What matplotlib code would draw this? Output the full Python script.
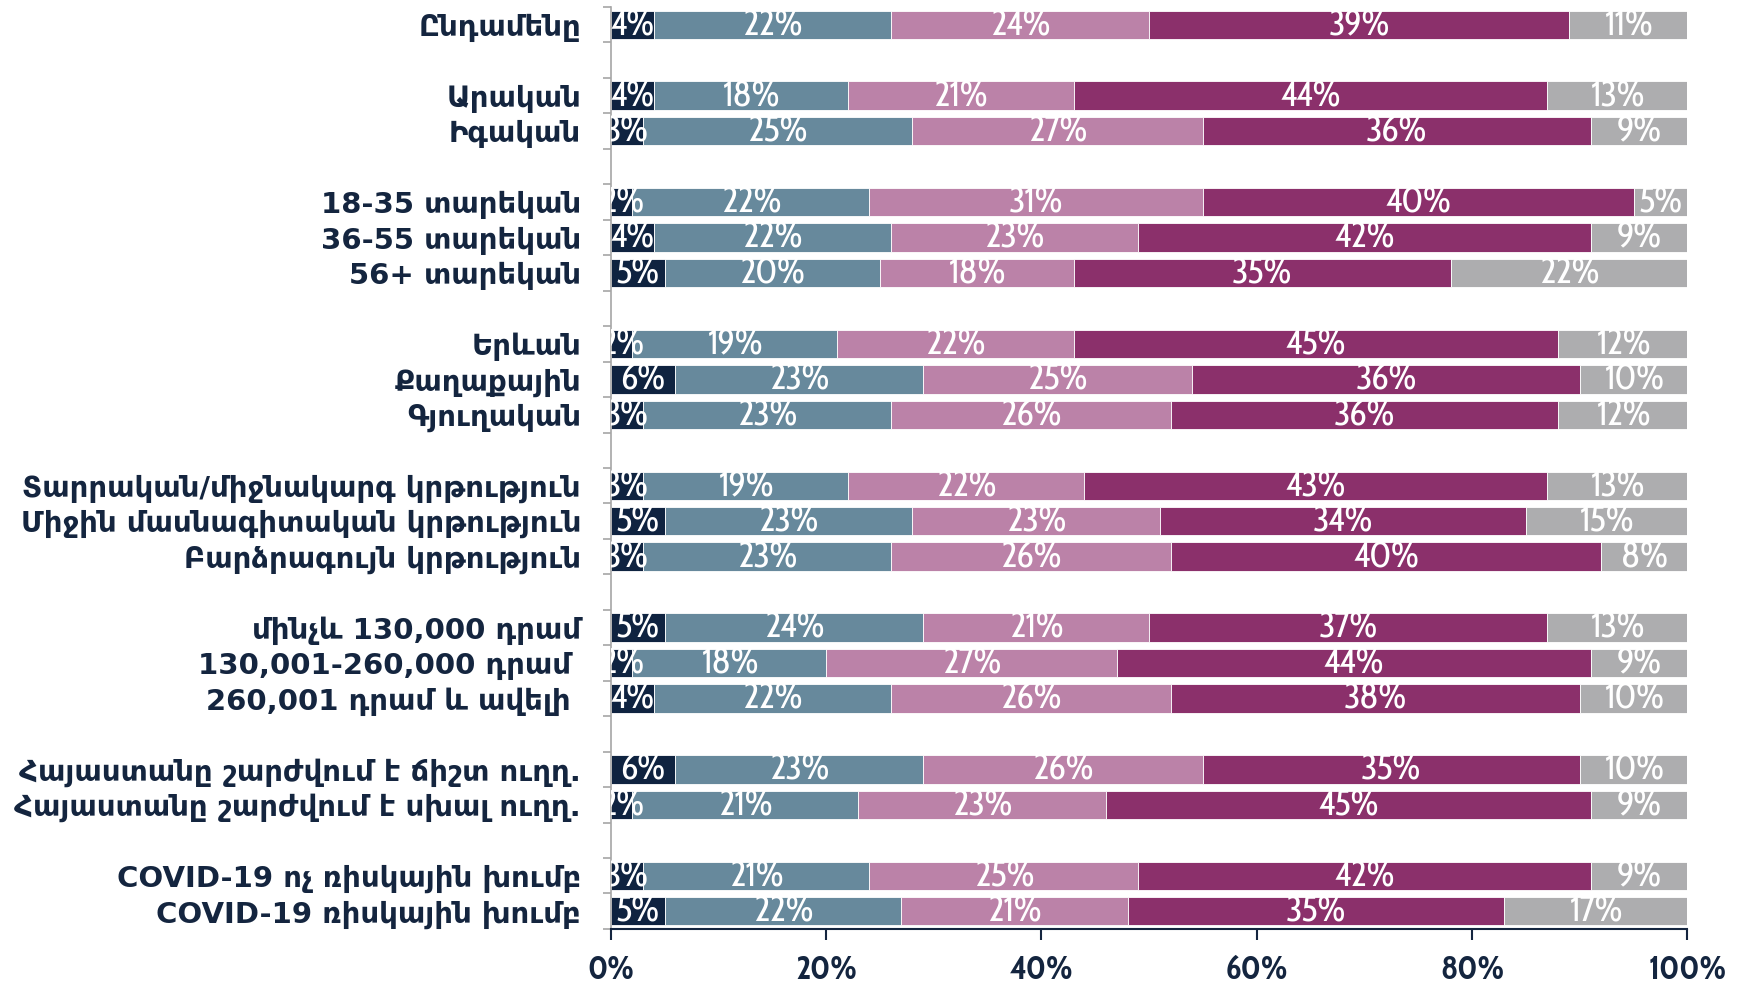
import matplotlib
matplotlib.use("Agg")
import matplotlib.pyplot as plt
import numpy as np

# categories, top to bottom; group sizes define the blank rows between them
labels = [
    "Ընդամենը",
    "Արական", "Իգական",
    "18-35 տարեկան", "36-55 տարեկան", "56+ տարեկան",
    "Երևան", "Քաղաքային", "Գյուղական",
    "Տարրական/միջնակարգ կրթություն", "Միջին մասնագիտական կրթություն", "Բարձրագույն կրթություն",
    "մինչև 130,000 դրամ", "130,001-260,000 դրամ ", "260,001 դրամ և ավելի ",
    "Հայաստանը շարժվում է ճիշտ ուղղ.", "Հայաստանը շարժվում է սխալ ուղղ.",
    "COVID-19 ոչ ռիսկային խումբ", "COVID-19 ռիսկային խումբ",
]
group_sizes = [1, 2, 3, 3, 3, 3, 2, 2]

s1 = [4, 4, 3, 2, 4, 5, 2, 6, 3, 3, 5, 3, 5, 2, 4, 6, 2, 3, 5]
s2 = [22, 18, 25, 22, 22, 20, 19, 23, 23, 19, 23, 23, 24, 18, 22, 23, 21, 21, 22]
s3 = [24, 21, 27, 31, 23, 18, 22, 25, 26, 22, 23, 26, 21, 27, 26, 26, 23, 25, 21]
s4 = [39, 44, 36, 40, 42, 35, 45, 36, 36, 43, 34, 40, 37, 44, 38, 35, 45, 42, 35]
s5 = [11, 13, 9, 5, 9, 22, 12, 10, 12, 13, 15, 8, 13, 9, 10, 10, 9, 9, 17]

series = [s1, s2, s3, s4, s5]
colors = ["#0f2340", "#67899c", "#bb82a8", "#8b306b", "#adadaf"]
navy = "#14253f"
num_font = ["Cabin Condensed", "DejaVu Sans"]

# slot positions with one empty slot between groups
pos = []
slot = 0
for g in group_sizes:
    for _ in range(g):
        pos.append(slot)
        slot += 1
    slot += 1
pos = np.array(pos)
n_slots = slot - 1

fig = plt.figure(figsize=(17.45, 9.85), dpi=100)
ax = fig.add_axes([0.350, 0.0569, 0.617, 0.936])

left = np.zeros(len(labels))
for vals, c in zip(series, colors):
    vals = np.array(vals, dtype=float)
    ax.barh(pos, vals, left=left, height=0.8, color=c, edgecolor="white", linewidth=0.6)
    for y, l, v in zip(pos, left, vals):
        ax.text(l + v / 2, y + 0.04, f"{int(v)}%", ha="center", va="center", color="white",
                fontsize=26, family=num_font, clip_on=True)
    left += vals

ax.set_xlim(0, 100)
ax.set_ylim(n_slots - 0.5, -0.5)

ax.set_yticks(pos)
ax.set_yticklabels(labels, fontsize=21, fontweight="bold", color=navy, family="DejaVu Sans")
ax.tick_params(axis="y", which="major", length=0, pad=21.5)
ax.set_yticks(np.arange(-0.5, n_slots, 1.0), minor=True)
ax.tick_params(axis="y", which="minor", length=6, color="#a6a6a6", width=1.2)

ax.set_xticks([0, 20, 40, 60, 80, 100])
ax.set_xticklabels(["0%", "20%", "40%", "60%", "80%", "100%"], fontsize=24, fontweight="bold",
                   color=navy, family=num_font)
ax.tick_params(axis="x", length=8, width=1.5, color=navy, pad=10)

for s in ["top", "right"]:
    ax.spines[s].set_visible(False)
ax.spines["left"].set_color("#a6a6a6")
ax.spines["left"].set_linewidth(1.2)
ax.spines["bottom"].set_color(navy)
ax.spines["bottom"].set_linewidth(1.5)

fig.savefig("out.png", dpi=100)
